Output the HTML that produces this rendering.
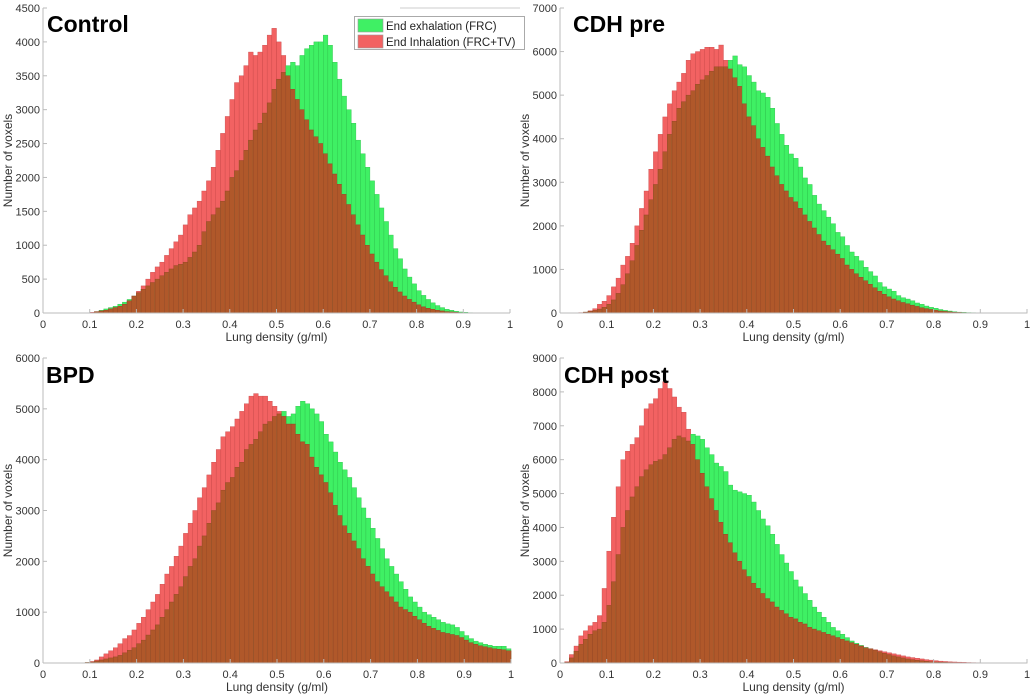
<!DOCTYPE html>
<html><head><meta charset="utf-8">
<style>
html,body{margin:0;padding:0;background:#fff;width:1034px;height:699px;overflow:hidden}
svg{display:block;font-family:"Liberation Sans",Arial,sans-serif}
</style></head>
<body>
<svg id="chart" width="1034" height="699" viewBox="0 0 1034 699" xmlns="http://www.w3.org/2000/svg"></svg>
<script>
const binEdges = [0,0.01]; // bin width 0.01, 100 bins over [0,1]
const panelTitles = ["Control","CDH pre","BPD","CDH post"];
const yMaxes = [4500,7000,6000,9000];
const ySteps = [500,1000,1000,1000];
const xTicks = [0,0.1,0.2,0.3,0.4,0.5,0.6,0.7,0.8,0.9,1];
const xTickLabels = ["0","0.1","0.2","0.3","0.4","0.5","0.6","0.7","0.8","0.9","1"];
const legendLabels = ["End exhalation (FRC)","End Inhalation (FRC+TV)"];

const controlExh = [0,0,0,0,0,0,0,0,0,0, 0,20,40,60,80,100,130,160,200,250, 300,350,400,450,500,550,600,650,700,720, 750,820,900,1000,1200,1350,1450,1550,1650,1800, 2000,2100,2250,2400,2550,2700,2800,2950,3100,3300, 3450,3550,3650,3700,3650,3800,3900,3950,4000,4000, 4100,3950,3700,3450,3200,3000,2800,2550,2350,2150, 1950,1750,1550,1350,1150,950,800,650,530,430, 330,260,200,150,110,80,55,40,25,15, 10,5,3,2,0,0,0,0,0,0];
const controlInh = [0,0,0,0,0,0,0,0,0,0, 10,20,30,40,60,80,100,130,180,250, 320,400,500,600,680,750,850,950,1050,1150, 1300,1450,1550,1650,1800,1950,2150,2400,2650,2900, 3150,3400,3500,3650,3850,3800,3850,3950,4100,4200, 4000,3800,3500,3300,3150,3000,2850,2700,2600,2500, 2350,2200,2050,1900,1750,1600,1450,1300,1150,1000, 870,750,640,550,460,380,310,250,200,160, 120,90,70,55,40,30,20,15,10,5, 3,2,0,0,0,0,0,0,0,0];
const preExh = [0,0,0,0,0,20,40,60,90,130, 200,300,450,650,900,1200,1550,1900,2250,2600, 2950,3300,3700,4100,4400,4700,4850,5000,5100,5250, 5350,5450,5550,5650,5650,5650,5800,5900,5700,5650, 5450,5300,5100,5050,4950,4700,4350,4100,3850,3650, 3550,3350,3100,2950,2700,2500,2350,2200,2050,1850, 1750,1550,1400,1300,1200,1050,950,850,700,600, 550,500,400,350,320,280,230,200,160,130, 110,80,60,45,30,20,15,10,8,5, 3,2,2,2,2,2,2,2,2,2];
const preInh = [0,0,0,0,10,20,50,100,200,270, 400,600,800,1100,1300,1600,2000,2400,2800,3300, 3700,4100,4500,4800,5100,5300,5500,5800,5950,6000, 6050,6100,6100,6050,6150,5800,5600,5400,5200,4800, 4500,4300,4000,3800,3600,3350,3150,2950,2800,2650, 2550,2400,2250,2100,1950,1800,1650,1550,1450,1350, 1250,1100,1000,900,820,740,660,580,500,430, 370,320,280,240,210,180,150,120,100,80, 60,45,35,25,18,12,8,5,3,2, 2,2,2,2,2,2,2,2,2,2];
const bpdExh = [0,0,0,0,0,0,0,0,0,10, 20,40,60,80,100,120,150,200,250,300, 380,450,550,650,750,900,1050,1200,1350,1500, 1700,1900,2050,2300,2500,2750,3000,3150,3400,3550, 3650,3850,3950,4200,4300,4400,4550,4700,4750,4850, 4900,4950,4850,4900,5050,5150,5100,5000,4900,4750, 4500,4350,4150,3950,3800,3650,3450,3250,3050,2850, 2650,2450,2250,2050,1900,1750,1600,1450,1300,1200, 1100,1000,950,900,850,800,770,750,700,620, 540,480,430,400,370,350,330,330,330,280];
const bpdInh = [0,0,0,0,0,0,0,0,0,10, 30,60,120,180,240,300,380,480,540,650, 780,900,1050,1200,1350,1550,1750,1900,2100,2300, 2550,2750,3000,3250,3450,3700,3950,4200,4450,4550, 4650,4800,4950,5100,5250,5300,5250,5250,5150,5050, 4950,4850,4700,4700,4500,4350,4300,4050,3850,3700, 3550,3350,3100,2900,2700,2550,2400,2250,2050,1900, 1750,1600,1500,1400,1300,1200,1100,1050,1000,920, 850,780,720,680,640,600,580,560,540,500, 450,400,370,340,320,300,280,270,260,240];
const postExh = [0,20,150,350,550,700,850,950,1000,1200, 1700,2400,3200,4000,4500,4900,5200,5500,5700,5850, 5950,6000,6150,6350,6600,6700,6650,6550,6750,6700, 6600,6350,6150,5900,5800,5650,5250,5100,5050,5000, 4950,4750,4500,4250,4050,3800,3500,3200,2950,2700, 2450,2250,2050,1850,1650,1500,1350,1200,1050,950, 850,750,650,580,520,460,420,380,330,290, 250,210,180,150,120,100,80,65,50,40, 30,25,20,15,12,10,8,5,5,5, 5,5,5,5,5,5,5,5,5,5];
const postInh = [0,40,250,500,800,950,1100,1200,1400,2200, 3300,4300,5200,6000,6250,6450,6650,7000,7500,7650, 7800,8100,8300,8100,7850,7550,7400,6900,6450,6000, 5600,5200,4850,4500,4150,3800,3550,3250,3000,2750, 2550,2350,2200,2050,1900,1800,1650,1550,1450,1350, 1300,1200,1150,1050,1000,950,900,850,800,750, 700,650,600,550,500,450,420,390,360,330, 300,270,240,210,180,160,140,120,100,85, 70,55,45,35,30,25,20,15,12,10, 5,5,5,5,5,5,5,5,5,5];

const exhSeries = [controlExh, preExh, bpdExh, postExh];
const inhSeries = [controlInh, preInh, bpdInh, postInh];

const NS = "http://www.w3.org/2000/svg";
const svg = document.getElementById("chart");
function mk(tag, attrs, parent){
  const e = document.createElementNS(NS, tag);
  for (const k in attrs) e.setAttribute(k, attrs[k]);
  (parent||svg).appendChild(e);
  return e;
}
const boxes = [
  {x0:43, x1:510, y0:313, y1:8, tx:47, ty:32, lx:8},
  {x0:560, x1:1027, y0:313, y1:8, tx:573, ty:32, lx:525},
  {x0:43, x1:511, y0:663, y1:358, tx:46, ty:383, lx:8},
  {x0:560, x1:1027, y0:663, y1:358, tx:564, ty:383, lx:525}
];
const slugs = ["control","cdh-pre","bpd","cdh-post"];
const GREEN="#3ff064", RED="#f26262", BROWN="#b0582a";

boxes.forEach((b,p)=>{
  const g = mk("g",{});
  
  
  const ymax = yMaxes[p];
  const xs = v => b.x0 + (b.x1-b.x0)*v;
  const ys = v => b.y0 - (b.y0-b.y1)*v/ymax;
  const bw = binEdges[1]-binEdges[0];
  const ex = exhSeries[p], inh = inhSeries[p];
  for (let i=0;i<ex.length;i++){
    const xa = xs(i*bw), xb = xs((i+1)*bw), w = xb-xa;
    const e = ex[i], r = inh[i], m = Math.min(e,r);
    if (e>0){
      const rc = mk("rect",{x:xa,y:ys(e),width:w,height:b.y0-ys(e),fill:GREEN,stroke:"#2cc04a","stroke-width":0.4},g);
      
      
    }
    if (r>0){
      const rc = mk("rect",{x:xa,y:ys(r),width:w,height:b.y0-ys(r),fill:RED,stroke:"#c84848","stroke-width":0.4},g);
      
      
    }
    if (m>0){
      const rc = mk("rect",{x:xa,y:ys(m),width:w,height:b.y0-ys(m),fill:BROWN,stroke:"#8e4420","stroke-width":0.4},g);
      
      
    }
  }
  const xa = mk("line",{x1:b.x0,y1:b.y0,x2:b.x1,y2:b.y0,stroke:"#bbb","stroke-width":1},g);
  
  
  const ya = mk("line",{x1:b.x0,y1:b.y0,x2:b.x0,y2:b.y1,stroke:"#bbb","stroke-width":1},g);
  
  
  xTicks.forEach((t,k)=>{
    mk("line",{x1:xs(t),y1:b.y0,x2:xs(t),y2:b.y0-4,stroke:"#bbb"},g);
    const tx = mk("text",{x:xs(t),y:b.y0+15,"font-size":11,fill:"#333","text-anchor":"middle"},g);
    tx.textContent = xTickLabels[k];
    
    
  });
  for (let v=0; v<=ymax; v+=ySteps[p]){
    mk("line",{x1:b.x0,y1:ys(v),x2:b.x0+4,y2:ys(v),stroke:"#bbb"},g);
    const tx = mk("text",{x:b.x0-3,y:ys(v)+4,"font-size":11,fill:"#333","text-anchor":"end"},g);
    tx.textContent = String(v);
    
    
  }
  const xl = mk("text",{x:(b.x0+b.x1)/2,y:b.y0+28,"font-size":12,fill:"#333","text-anchor":"middle"},g);
  xl.textContent = "Lung density (g/ml)";
  
  
  const cy = (b.y0+b.y1)/2;
  const yl = mk("text",{x:b.lx,y:cy,"font-size":12,fill:"#333","text-anchor":"middle",transform:`rotate(-90 ${b.lx} ${cy})`,dy:4},g);
  yl.textContent = "Number of voxels";
  
  
  const tt = mk("text",{x:b.tx,y:b.ty,"font-size":23,"font-weight":"bold",fill:"#000"},g);
  tt.textContent = panelTitles[p];
  
  
});

const lg = mk("g",{});


mk("line",{x1:400,y1:8,x2:520,y2:8,stroke:"#ccc","stroke-width":1},lg);
mk("rect",{x:354.5,y:16.5,width:170,height:33,fill:"#fff",stroke:"#aaa","stroke-width":1},lg);
[GREEN,RED].forEach((c,i)=>{
  const y = 19 + i*16;
  const sw = mk("rect",{x:358,y:y,width:25,height:13,fill:c,stroke:"#999","stroke-width":0.6},lg);
  
  
  const t = mk("text",{x:386,y:y+11,"font-size":11.5,fill:"#222"},lg);
  t.textContent = legendLabels[i];
  
  
});
</script>
</body></html>
